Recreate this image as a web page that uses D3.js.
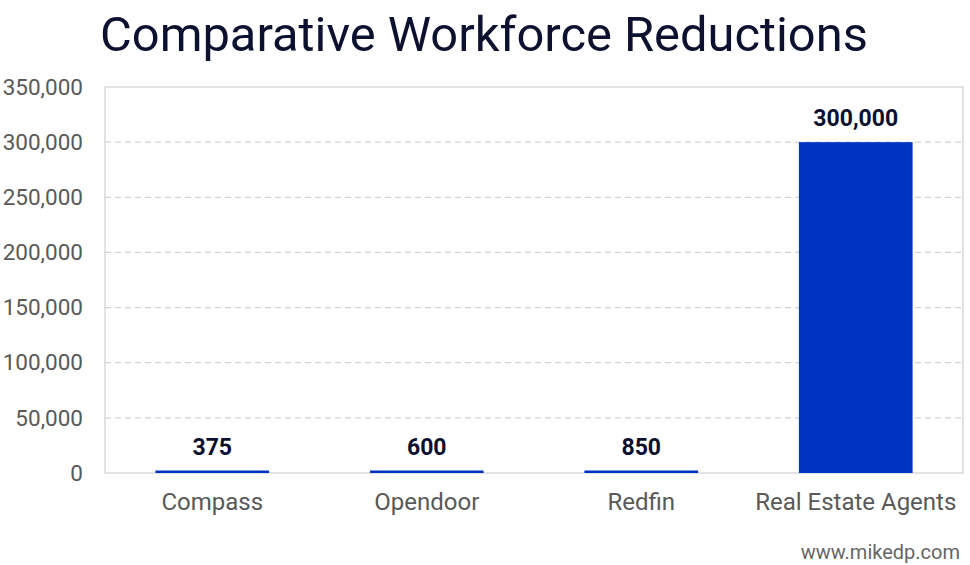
<!DOCTYPE html>
<html>
<head>
<meta charset="utf-8">
<script src="https://cdn.jsdelivr.net/npm/d3@7"></script>
<style>
  body { margin: 0; background: #fff; }
  text { font-family: Roboto, "Noto Sans", sans-serif; }
</style>
</head>
<body>
<div id="chart"></div>
<script>
// Chart data
var categories = ["Compass", "Opendoor", "Redfin", "Real Estate Agents"];
var reductions = [375, 600, 850, 300000];
var yTicks = [0, 50000, 100000, 150000, 200000, 250000, 300000, 350000];

var svgWidth = 970;
var svgHeight = 565;

var margin = { top: 87, right: 7, bottom: 92, left: 105 };

var width = svgWidth - margin.left - margin.right;
var height = svgHeight - margin.top - margin.bottom;

var svg = d3.select("#chart")
  .append("svg")
  .attr("width", svgWidth)
  .attr("height", svgHeight);

// Title
var title = svg.append("text")
  .attr("x", 100)
  .attr("y", 51)
  .attr("fill", "#0d1130")
  .style("font-size", "46px")
  .text("Comparative Workforce Reductions");

// stretch title to the reference width
var tw = title.node().getComputedTextLength();
title.style("font-size", (46 * 768 / tw) + "px");

var chartGroup = svg.append("g")
  .attr("transform", `translate(${margin.left}, ${margin.top})`);

var xScale = d3.scaleBand()
  .domain(categories)
  .range([0, width])
  .paddingInner(0.47)
  .paddingOuter(0.235);

var yScale = d3.scaleLinear()
  .domain([0, 350000])
  .range([height, 0]);

// Gridlines
chartGroup.selectAll(".grid")
  .data(yTicks.slice(1, -1))
  .enter()
  .append("line")
  .attr("x1", 0)
  .attr("x2", width)
  .attr("y1", d => yScale(d))
  .attr("y2", d => yScale(d))
  .attr("stroke", "#d3d3d3")
  .attr("stroke-width", 1.2)
  .attr("stroke-dasharray", "6,4");

// Frame
chartGroup.append("rect")
  .attr("x", 0)
  .attr("y", 0)
  .attr("width", width)
  .attr("height", height)
  .attr("fill", "none")
  .attr("stroke", "#d9d9d9")
  .attr("stroke-width", 1.5);

// Y axis labels
var leftAxis = d3.axisLeft(yScale)
  .tickValues(yTicks)
  .tickFormat(d3.format(","))
  .tickSize(0)
  .tickPadding(22);

var yAxis = chartGroup.append("g").call(leftAxis);
yAxis.select(".domain").remove();
yAxis.selectAll("text")
  .attr("fill", "#595959")
  .style("font-size", "22.5px");

// X axis labels
var bottomAxis = d3.axisBottom(xScale)
  .tickSize(0)
  .tickPadding(20);

var xAxis = chartGroup.append("g")
  .attr("transform", `translate(0, ${height})`)
  .call(bottomAxis);
xAxis.select(".domain").remove();
xAxis.selectAll("text")
  .attr("fill", "#595959")
  .style("font-size", "24px");

// Bars
var barData = categories.map((c, i) => ({ name: c, value: reductions[i] }));

chartGroup.selectAll(".bar")
  .data(barData)
  .enter()
  .append("rect")
  .attr("x", d => xScale(d.name))
  .attr("width", xScale.bandwidth())
  .attr("y", d => Math.min(yScale(d.value), height - 2.5))
  .attr("height", d => Math.max(height - yScale(d.value), 2.5))
  .attr("fill", "#0033c1");

// Value labels
chartGroup.selectAll(".label")
  .data(barData)
  .enter()
  .append("text")
  .attr("x", d => xScale(d.name) + xScale.bandwidth() / 2)
  .attr("y", d => Math.min(yScale(d.value), height - 2.5) - 16)
  .attr("text-anchor", "middle")
  .attr("fill", "#0b1030")
  .style("font-size", "23px")
  .style("font-weight", "bold")
  .text(d => d3.format(",")(d.value));

// Watermark
svg.append("text")
  .attr("x", 960)
  .attr("y", 559)
  .attr("text-anchor", "end")
  .attr("fill", "#666")
  .style("font-size", "20px")
  .text("www.mikedp.com");
</script>
</body>
</html>
